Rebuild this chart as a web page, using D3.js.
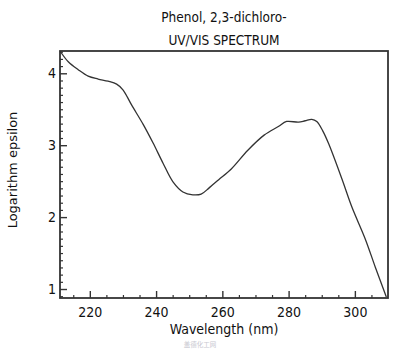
<!DOCTYPE html>
<html lang="en">
<head>
    <meta charset="UTF-8">
    <title>Phenol, 2,3-dichloro- UV/VIS spectrum</title>
    <script src="https://d3js.org/d3.v7.min.js"></script>
    <style>
        body { margin: 0; background: white; font-family: "DejaVu Sans", sans-serif; }
        .cond { font-family: "DejaVu Sans Condensed", "DejaVu Sans", sans-serif; font-stretch: condensed; }
    </style>
</head>
<body>
    <div id="chart"></div>
    <script>
        // spectrum
        const wavelength = [211, 213.5, 216.5, 219.5, 222.5, 225.5, 228.1, 230.0, 232.6, 236.1, 239.1, 242.1, 245.1, 248.1, 251.1, 253.6, 256.1, 258.9, 262.7, 267.7, 272.6, 276.9, 279.4, 283, 285, 287, 288.5, 290.3, 292.1, 296.1, 299.1, 303.1, 306.2, 309.5];
        const logEps = [4.31, 4.16, 4.05, 3.96, 3.92, 3.89, 3.85, 3.77, 3.56, 3.29, 3.03, 2.75, 2.49, 2.35, 2.31, 2.32, 2.41, 2.52, 2.67, 2.93, 3.14, 3.26, 3.33, 3.32, 3.34, 3.36, 3.33, 3.2, 3.02, 2.53, 2.14, 1.70, 1.3, 0.89];
        const xTicks = [220, 240, 260, 280, 300];
        const yTicks = [1, 2, 3, 4];
        const titleLines = ["Phenol, 2,3-dichloro-", "UV/VIS SPECTRUM"];

        const width = 400, height = 351;
        const margin = { top: 51, right: 12, bottom: 53, left: 60 };

        const x = d3.scaleLinear().domain([211, 310]).range([margin.left, width - margin.right]);
        const y = d3.scaleLinear().domain([0.875, 4.31]).range([height - margin.bottom, margin.top]);

        const svg = d3.select("#chart").append("svg")
            .attr("width", width)
            .attr("height", height);

        // title
        svg.append("g").selectAll("text")
            .data(titleLines)
            .join("text")
            .attr("class", "cond")
            .attr("x", 224)
            .attr("y", (d, i) => 22 + i * 23)
            .attr("text-anchor", "middle")
            .attr("font-size", 13.5)
            .attr("fill", "#111")
            .text(d => d);

        // minor ticks first, then majors on top
        const axisColor = "#333";
        const xMinor = d3.range(215, 310, 5).filter(v => !xTicks.includes(v));
        const yMinor = d3.range(9, 44).map(v => v / 10).filter(v => !yTicks.includes(v));

        svg.append("g")
            .attr("transform", `translate(0,${height - margin.bottom})`)
            .call(d3.axisBottom(x).tickValues(xMinor).tickSize(-3).tickFormat(""))
            .call(g => g.select(".domain").remove())
            .call(g => g.selectAll("line").attr("stroke", axisColor).attr("stroke-width", 1.2));

        svg.append("g")
            .attr("transform", `translate(${margin.left},0)`)
            .call(d3.axisLeft(y).tickValues(yMinor).tickSize(-3).tickFormat(""))
            .call(g => g.select(".domain").remove())
            .call(g => g.selectAll("line").attr("stroke", axisColor).attr("stroke-width", 1.2));

        svg.append("g")
            .attr("transform", `translate(0,${height - margin.bottom})`)
            .call(d3.axisBottom(x).tickValues(xTicks).tickSize(-7).tickPadding(9))
            .call(g => g.select(".domain").remove())
            .call(g => g.selectAll("line").attr("stroke", axisColor).attr("stroke-width", 1.4))
            .call(g => g.selectAll("text").attr("font-size", 14).attr("fill", "#111")
                .attr("font-family", null).attr("class", "cond"));

        svg.append("g")
            .attr("transform", `translate(${margin.left},0)`)
            .call(d3.axisLeft(y).tickValues(yTicks).tickFormat(d3.format("d")).tickSize(-7).tickPadding(4))
            .call(g => g.select(".domain").remove())
            .call(g => g.selectAll("line").attr("stroke", axisColor).attr("stroke-width", 1.4))
            .call(g => g.selectAll("text").attr("font-size", 14).attr("fill", "#111")
                .attr("class", "cond"));
        svg.selectAll("g").attr("font-family", null);

        // plot frame
        svg.append("rect")
            .attr("x", margin.left)
            .attr("y", margin.top)
            .attr("width", width - margin.left - margin.right)
            .attr("height", height - margin.top - margin.bottom)
            .attr("fill", "none")
            .attr("stroke", axisColor)
            .attr("stroke-width", 1.8);

        // spectrum curve
        const line = d3.line()
            .x((d, i) => x(wavelength[i]))
            .y(d => y(d))
            .curve(d3.curveCatmullRom.alpha(0.5));

        svg.append("path")
            .datum(logEps)
            .attr("d", line)
            .attr("fill", "none")
            .attr("stroke", "#333")
            .attr("stroke-width", 1.3);

        // axis titles
        svg.append("text")
            .attr("class", "cond")
            .attr("x", 224)
            .attr("y", 334)
            .attr("text-anchor", "middle")
            .attr("font-size", 14)
            .attr("fill", "#111")
            .text("Wavelength (nm)");

        svg.append("text")
            .attr("transform", "translate(17,170) rotate(-90)")
            .attr("text-anchor", "middle")
            .attr("font-size", 13)
            .attr("fill", "#111")
            .text("Logarithm epsilon");

        // faint watermark
        svg.append("text")
            .attr("x", 200)
            .attr("y", 347)
            .attr("text-anchor", "middle")
            .attr("font-size", 6.5)
            .attr("fill", "#c8c8d0")
            .attr("font-family", "Noto Sans CJK SC")
            .text("盖德化工网");
    </script>
</body>
</html>
